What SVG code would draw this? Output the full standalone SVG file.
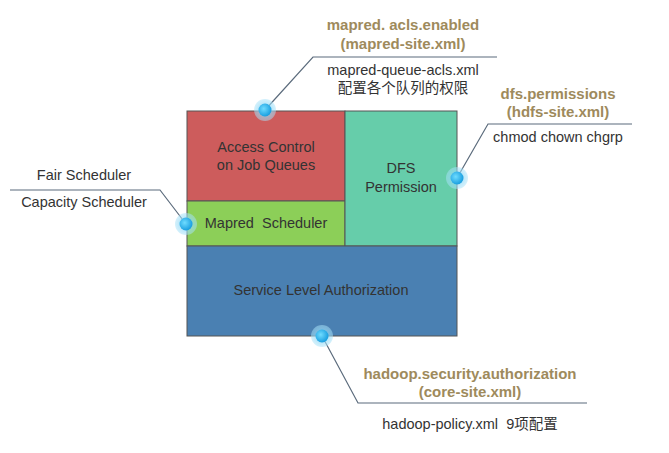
<svg xmlns="http://www.w3.org/2000/svg" width="669" height="453" viewBox="0 0 669 453">
<defs>
<radialGradient id="glow" cx="50%" cy="50%" r="50%">
<stop offset="0%" stop-color="#7fd3f5" stop-opacity="0.9"/>
<stop offset="100%" stop-color="#a9e2f8" stop-opacity="0.5"/>
</radialGradient>
<radialGradient id="core" cx="40%" cy="40%" r="60%">
<stop offset="0%" stop-color="#6fdcff"/>
<stop offset="100%" stop-color="#1a9fe0"/>
</radialGradient>
</defs>
<style>
text{font-family:"Liberation Sans",Arial,"Noto Sans CJK SC",sans-serif;font-size:14.5px;fill:#333;text-anchor:middle;white-space:pre}
.k{font-weight:bold;fill:#9e8a5c;font-size:15px}
.box{stroke:#555;stroke-width:1}
.lead{fill:none;stroke:#5b6b7c;stroke-width:1.2}
.halo{fill:url(#glow)}
.dot{fill:url(#core)}
</style>
<rect width="669" height="453" fill="#fff"/>
<g id="blocks">
<g id="acl"><rect class="box" x="187" y="111" width="158" height="90" fill="#cd5c5c"/><text x="266" y="152">Access Control</text><text x="266" y="170">on Job Queues</text></g>
<g id="sched"><rect class="box" x="187" y="201" width="158" height="45" fill="#8ccf58"/><text x="266" y="228">Mapred  Scheduler</text></g>
<g id="dfs"><rect class="box" x="345" y="111" width="112" height="135" fill="#66cdaa"/><text x="401" y="173">DFS</text><text x="401" y="192">Permission</text></g>
<g id="sla"><rect class="box" x="187" y="246" width="270" height="90" fill="#4a80b2"/><text x="321" y="295">Service Level Authorization</text></g>
</g>
<g id="connectors">
<polyline class="lead" points="265,110 313,57 497,57"/>
<polyline class="lead" points="10,190 160,190 186,224"/>
<polyline class="lead" points="457,178 488,124 632,124"/>
<polyline class="lead" points="322,336 358,403 587,403"/>
</g>
<g id="dots">
<circle class="halo" cx="265" cy="110" r="11"/><circle class="dot" cx="265" cy="110" r="6.5"/>
<circle class="halo" cx="186" cy="224" r="11"/><circle class="dot" cx="186" cy="224" r="6.5"/>
<circle class="halo" cx="457" cy="178" r="11"/><circle class="dot" cx="457" cy="178" r="6.5"/>
<circle class="halo" cx="322" cy="336" r="11"/><circle class="dot" cx="322" cy="336" r="6.5"/>
</g>
<g id="label-acl">
<text class="k" x="403" y="30">mapred. acls.enabled</text>
<text class="k" x="403" y="49">(mapred-site.xml)</text>
<text x="403" y="75">mapred-queue-acls.xml</text>
<text x="403" y="93">配置各个队列的权限</text>
</g>
<g id="label-sched">
<text x="84" y="180">Fair Scheduler</text>
<text x="84" y="207">Capacity Scheduler</text>
</g>
<g id="label-dfs">
<text class="k" x="558" y="99">dfs.permissions</text>
<text class="k" x="558" y="117">(hdfs-site.xml)</text>
<text x="558" y="142">chmod chown chgrp</text>
</g>
<g id="label-sla">
<text class="k" x="470" y="379">hadoop.security.authorization</text>
<text class="k" x="470" y="397">(core-site.xml)</text>
<text x="470" y="429">hadoop-policy.xml  9项配置</text>
</g>
</svg>
